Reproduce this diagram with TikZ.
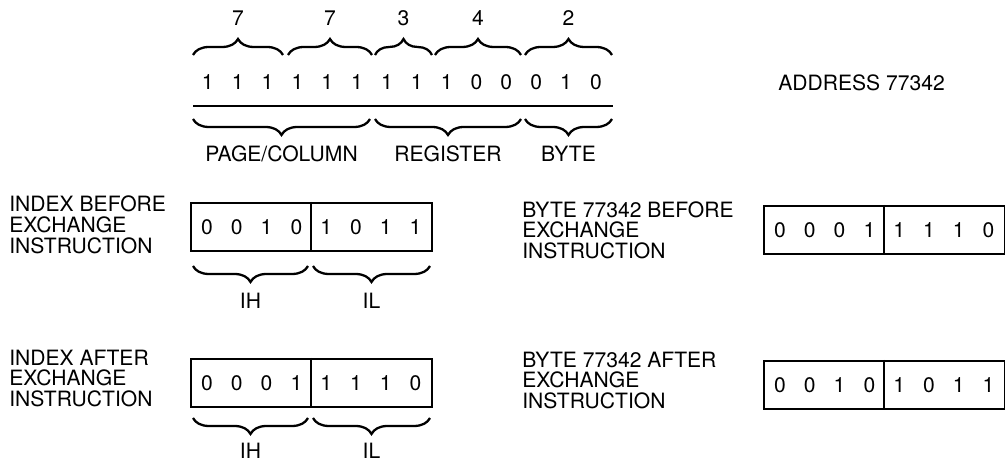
\documentclass[tikz,border=0pt]{standalone}
\usepackage{fontspec}
\setmainfont{TeX Gyre Heros}
\usetikzlibrary{decorations.pathreplacing}
\tikzset{
  txt/.style={font=\fontsize{12}{14}\selectfont},
  lbl/.style={txt, anchor=west, inner sep=0pt, text height=8.6pt, text depth=0pt},
  brc/.style={decorate, decoration={brace, amplitude=0.32cm}, line width=1.3pt},
  reg/.style={draw, line width=1.1pt, minimum width=4.82cm, minimum height=0.96cm, inner sep=0pt},
}
\begin{document}
\begin{tikzpicture}[x=0.02cm, y=-0.02cm]
\useasboundingbox (0,0) rectangle (1005,465);

\foreach \b [count=\i] in {1,1,1,1,1,1,1,1,1,0,0,0,1,0}
  \node[txt] (t\i) at ({178+29.85*\i},82) {\b};
\coordinate (la) at (193,106);
\coordinate (lb) at (613,106);
\draw[line width=1pt] (la) -- (lb);

\draw[brc] (193,55) -- node[txt, above=0.45cm] (n1) {7} (283,55);
\draw[brc] (288,55) -- node[txt, above=0.45cm] (n2) {7} (372,55);
\draw[brc] (375,55) -- node[txt, above=0.45cm] (n3) {3} (432,55);
\draw[brc] (435,55) -- node[txt, above=0.45cm] (n4) {4} (521,55);
\draw[brc] (525,55) -- node[txt, above=0.45cm] (n5) {2} (612,55);

\draw[brc] (370,119) -- node[txt, below=0.4cm] (pc) {PAGE/COLUMN} (193,119);
\draw[brc] (521,119) -- node[txt, below=0.4cm] (rg) {REGISTER} (375,119);
\draw[brc] (612,119) -- node[txt, below=0.4cm] (by) {BYTE} (525,119);

\node[lbl] (adr) at (778,83) {ADDRESS 77342};

\foreach \t [count=\j] in {INDEX BEFORE, EXCHANGE, INSTRUCTION}
  \node[lbl] (ibt\j) at (9,{183+21*\j}) {\t};
\foreach \t [count=\j] in {BYTE 77342 BEFORE, EXCHANGE, INSTRUCTION}
  \node[lbl] (bbt\j) at (522,{189+20.5*\j}) {\t};
\foreach \t [count=\j] in {INDEX AFTER, EXCHANGE, INSTRUCTION}
  \node[lbl] (iat\j) at (9,{337+20.5*\j}) {\t};
\foreach \t [count=\j] in {BYTE 77342 AFTER, EXCHANGE, INSTRUCTION}
  \node[lbl] (bat\j) at (522,{339+20.5*\j}) {\t};

\foreach \nm/\x/\y/\bits in {ib/190/202/{0,0,1,0,1,0,1,1}, bb/763/205/{0,0,0,1,1,1,1,0},
    ia/190/358/{0,0,0,1,1,1,1,0}, ba/763/360/{0,0,1,0,1,0,1,1}}{
  \node[reg, anchor=north west] (\nm) at (\x,\y) {};
  \draw[line width=1.1pt] (\nm.north) -- (\nm.south);
  \foreach \b [count=\i] in \bits
    \node[txt] (\nm\i) at ({\x+17+29.8*(\i-1)},\y+25) {\b};
}

\draw[brc] (308,266) -- node[txt, below=0.4cm] (ihb) {IH} (193,266);
\draw[brc] (430,266) -- node[txt, below=0.4cm] (ilb) {IL} (313,266);
\draw[brc] (308,418) -- node[txt, below=0.36cm] (iha) {IH} (193,418);
\draw[brc] (430,418) -- node[txt, below=0.36cm] (ila) {IL} (313,418);

\end{tikzpicture}
\end{document}
